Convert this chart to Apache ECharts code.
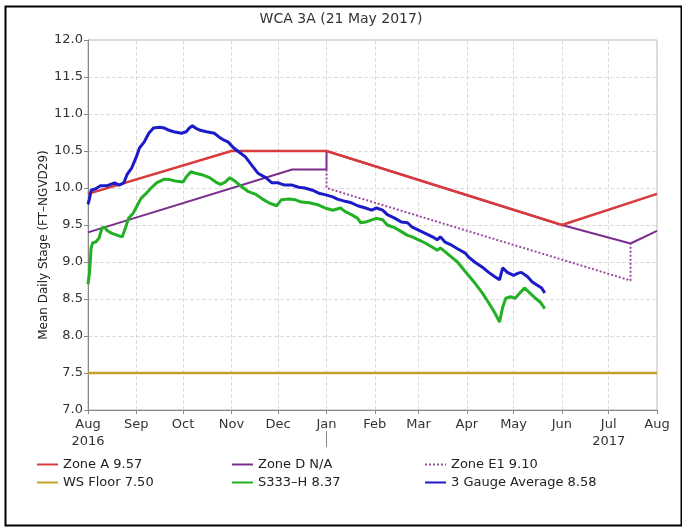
<!DOCTYPE html>
<html>
<head>
<meta charset="utf-8">
<title>WCA 3A (21 May 2017)</title>
<script src="https://cdn.jsdelivr.net/npm/echarts@6/dist/echarts.min.js"></script>
<style>
  html, body { margin: 0; padding: 0; background: #fff; }
  #chart { width: 682px; height: 527px; }
</style>
</head>
<body>
<div id="chart"></div>
<script>
// ---- Stage data (ft NGVD29) ----
const monthTicks = ['2016-08-01','2016-09-01','2016-10-01','2016-11-01','2016-12-01','2017-01-01',
  '2017-02-01','2017-03-01','2017-04-01','2017-05-01','2017-06-01','2017-07-01','2017-08-01'];
const monthNames = ['Jan','Feb','Mar','Apr','May','Jun','Jul','Aug','Sep','Oct','Nov','Dec'];
const yearSeparator = ['2017-01-01'];

const zoneADates = ['2016-08-01','2016-11-01','2017-01-01','2017-06-01','2017-08-01'];
const zoneAVals  = [9.92, 10.5, 10.5, 9.5, 9.92];

const zoneDDates = ['2016-08-01','2016-12-10','2017-01-01','2017-01-01','2017-06-01','2017-07-15','2017-08-01'];
const zoneDVals  = [9.40, 10.25, 10.25, 10.5, 9.5, 9.25, 9.42];

const zoneE1Dates = ['2017-01-01','2017-01-01','2017-07-15','2017-07-15'];
const zoneE1Vals  = [10.25, 10.0, 8.75, 9.25];

const floorDates = ['2016-08-01','2017-08-01'];
const floorVals  = [7.5, 7.5];

const s333Dates = ['2016-08-01','2016-08-02','2016-08-03','2016-08-04','2016-08-06','2016-08-08','2016-08-10',
  '2016-08-12','2016-08-13','2016-08-16','2016-08-20','2016-08-23','2016-08-25','2016-08-27','2016-08-30',
  '2016-09-01','2016-09-04','2016-09-07','2016-09-10','2016-09-14','2016-09-19','2016-09-23','2016-09-27',
  '2016-10-01','2016-10-03','2016-10-06','2016-10-09','2016-10-13','2016-10-18','2016-10-22','2016-10-25',
  '2016-10-28','2016-10-31','2016-11-04','2016-11-08','2016-11-12','2016-11-17','2016-11-21','2016-11-25',
  '2016-11-30','2016-12-03','2016-12-08','2016-12-12','2016-12-16','2016-12-21','2016-12-27','2016-12-31',
  '2017-01-05','2017-01-10','2017-01-13','2017-01-17','2017-01-21','2017-01-23','2017-01-26','2017-01-30',
  '2017-02-02','2017-02-06','2017-02-09','2017-02-14','2017-02-18','2017-02-22','2017-02-25','2017-03-01',
  '2017-03-05','2017-03-10','2017-03-13','2017-03-15','2017-03-18','2017-03-22','2017-03-26','2017-03-28',
  '2017-04-02','2017-04-06','2017-04-11','2017-04-15','2017-04-19','2017-04-22','2017-04-24','2017-04-26',
  '2017-04-29','2017-05-02','2017-05-05','2017-05-08','2017-05-11','2017-05-15','2017-05-18','2017-05-21'];
const s333Vals = [8.70,8.86,9.19,9.26,9.27,9.32,9.46,
  9.47,9.43,9.39,9.36,9.34,9.46,9.59,9.66,
  9.74,9.86,9.92,9.99,10.07,10.12,10.11,10.09,
  10.08,10.15,10.22,10.20,10.18,10.14,10.08,10.05,
  10.08,10.14,10.08,10.01,9.95,9.91,9.85,9.80,
  9.76,9.84,9.85,9.84,9.81,9.80,9.77,9.73,
  9.70,9.73,9.68,9.64,9.59,9.53,9.54,9.57,
  9.59,9.57,9.50,9.46,9.41,9.36,9.34,9.30,
  9.26,9.20,9.16,9.19,9.14,9.07,9.00,8.95,
  8.82,8.72,8.58,8.45,8.31,8.19,8.39,8.51,
  8.53,8.51,8.58,8.65,8.59,8.51,8.46,8.37];

const gaugeDates = ['2016-08-01','2016-08-02','2016-08-03','2016-08-06','2016-08-09','2016-08-13','2016-08-18',
  '2016-08-21','2016-08-24','2016-08-26','2016-08-29','2016-09-01','2016-09-03','2016-09-06','2016-09-09',
  '2016-09-12','2016-09-16','2016-09-19','2016-09-22','2016-09-25','2016-09-30','2016-10-03','2016-10-05',
  '2016-10-07','2016-10-09','2016-10-12','2016-10-16','2016-10-21','2016-10-24','2016-10-27','2016-10-30',
  '2016-11-02','2016-11-05','2016-11-10','2016-11-14','2016-11-18','2016-11-23','2016-11-27','2016-12-01',
  '2016-12-05','2016-12-10','2016-12-14','2016-12-18','2016-12-23','2016-12-27','2016-12-31','2017-01-05',
  '2017-01-08','2017-01-13','2017-01-17','2017-01-21','2017-01-26','2017-01-30','2017-02-02','2017-02-06',
  '2017-02-09','2017-02-14','2017-02-18','2017-02-22','2017-02-25','2017-03-01','2017-03-05','2017-03-10',
  '2017-03-13','2017-03-15','2017-03-18','2017-03-22','2017-03-26','2017-03-31','2017-04-02','2017-04-06',
  '2017-04-11','2017-04-15','2017-04-19','2017-04-22','2017-04-24','2017-04-27','2017-05-01','2017-05-04',
  '2017-05-06','2017-05-10','2017-05-13','2017-05-16','2017-05-19','2017-05-21'];
const gaugeVals = [9.78,9.86,9.97,9.99,10.03,10.03,10.07,
  10.04,10.07,10.18,10.27,10.42,10.54,10.62,10.74,
  10.81,10.82,10.81,10.78,10.76,10.74,10.76,10.81,
  10.84,10.81,10.78,10.76,10.74,10.69,10.65,10.62,
  10.55,10.50,10.42,10.31,10.20,10.14,10.07,10.07,
  10.04,10.04,10.01,10.00,9.97,9.93,9.91,9.88,
  9.85,9.82,9.80,9.76,9.73,9.70,9.73,9.70,
  9.64,9.59,9.54,9.53,9.47,9.43,9.39,9.34,
  9.30,9.34,9.27,9.23,9.18,9.12,9.07,9.00,
  8.93,8.86,8.80,8.76,8.92,8.86,8.82,8.85,
  8.86,8.80,8.73,8.69,8.65,8.58];

// ---- helpers ----
function ts(s) {
  const p = s.split('-').map(Number);
  return Date.UTC(p[0], p[1] - 1, p[2]);
}
function pairs(dates, vals) {
  return dates.map((d, i) => [ts(d), vals[i]]);
}

const FONT = 'DejaVu Sans';
const monthValues = monthTicks.map(ts);
const xMin = ts(monthTicks[0]);
const xMax = ts(monthTicks[monthTicks.length - 1]);

function lineSeries(name, dates, vals, color, width, extra) {
  return Object.assign({
    name: name,
    type: 'line',
    data: pairs(dates, vals),
    showSymbol: false,
    symbol: 'none',
    animation: false,
    lineStyle: { color: color, width: width },
    itemStyle: { color: color }
  }, extra || {});
}

function legendColumn(left, names) {
  return {
    left: left, top: 453, orient: 'vertical', itemGap: 5, itemWidth: 21, itemHeight: 10,
    itemStyle: { opacity: 0 },
    textStyle: { fontFamily: FONT, fontSize: 13, color: '#222' },
    data: names
  };
}

const chart = echarts.init(document.getElementById('chart'), null, { renderer: 'canvas' });

chart.setOption({
  backgroundColor: '#fff',
  animation: false,
  textStyle: { fontFamily: FONT },
  title: {
    text: 'WCA 3A (21 May 2017)',
    left: 'center',
    top: 7,
    textStyle: { fontFamily: FONT, fontSize: 14, fontWeight: 'normal', color: '#333' }
  },
  grid: {
    left: 88, right: 25, top: 40, bottom: 117,
    show: true, borderColor: '#b8b8b8', borderWidth: 1
  },
  legend: [
    legendColumn(31, ['Zone A 9.57', 'WS Floor 7.50']),
    legendColumn(226, ['Zone D N/A', 'S333\u2013H 8.37']),
    legendColumn(419, ['Zone E1 9.10', '3 Gauge Average 8.58'])
  ],
  xAxis: [
    {
      type: 'value',
      min: xMin,
      max: xMax,
      axisLine: { lineStyle: { color: '#888' } },
      axisTick: { customValues: monthValues, length: 4, lineStyle: { color: '#888' } },
      splitLine: { show: true, lineStyle: { color: '#dcdcdc', type: 'dashed' } },
      axisLabel: {
        customValues: monthValues,
        fontFamily: FONT, fontSize: 13, color: '#333', margin: 6, lineHeight: 17,
        formatter: function (v) {
          const d = new Date(v);
          const mi = d.getUTCMonth();
          const y = d.getUTCFullYear();
          if (y === 2016 && mi === 7) return monthNames[mi] + '\n2016';
          if (y === 2017 && mi === 6) return monthNames[mi] + '\n2017';
          return monthNames[mi];
        }
      }
    },
    {
      // year boundary marker below the month labels
      type: 'value',
      position: 'bottom',
      offset: 21,
      min: xMin,
      max: xMax,
      axisLine: { show: false },
      axisTick: { show: true, customValues: yearSeparator.map(ts), length: 16, lineStyle: { color: '#888' } },
      axisLabel: { show: false },
      splitLine: { show: false }
    }
  ],
  yAxis: {
    type: 'value',
    min: 7.0,
    max: 12.0,
    interval: 0.5,
    name: 'Mean Daily Stage (FT\u2013NGVD29)',
    nameLocation: 'middle',
    nameGap: 38,
    nameMoveOverlap: false,
    nameTextStyle: { fontFamily: FONT, fontSize: 12, color: '#222', padding: [0, 40, 0, 0] },
    axisLine: { show: true, lineStyle: { color: '#888' } },
    axisTick: { show: true, length: 4, lineStyle: { color: '#888' } },
    splitLine: { show: true, lineStyle: { color: '#dcdcdc', type: 'dashed' } },
    axisLabel: {
      fontFamily: FONT, fontSize: 13, color: '#333', margin: 5,
      formatter: v => v.toFixed(1)
    }
  },
  series: [
    lineSeries('Zone A 9.57', zoneADates, zoneAVals, '#d93a3c', 2.5, { z: 4 }),
    lineSeries('Zone D N/A', zoneDDates, zoneDVals, '#7b2d8e', 2, { z: 3 }),
    lineSeries('Zone E1 9.10', zoneE1Dates, zoneE1Vals, '#9c4aa0', 2, {
      z: 3, lineStyle: { color: '#9c4aa0', width: 2, type: [2, 2] }
    }),
    lineSeries('WS Floor 7.50', floorDates, floorVals, '#c4a12e', 2.5, { z: 4 }),
    lineSeries('S333\u2013H 8.37', s333Dates, s333Vals, '#22b024', 3, { z: 5 }),
    lineSeries('3 Gauge Average 8.58', gaugeDates, gaugeVals, '#1b1bc8', 3, { z: 6 })
  ],
  graphic: [
    {
      type: 'rect',
      left: 3, top: 4,
      shape: { width: 676, height: 519 },
      style: { fill: 'none', stroke: '#000', lineWidth: 2 },
      silent: true
    }
  ]
});
</script>
</body>
</html>
